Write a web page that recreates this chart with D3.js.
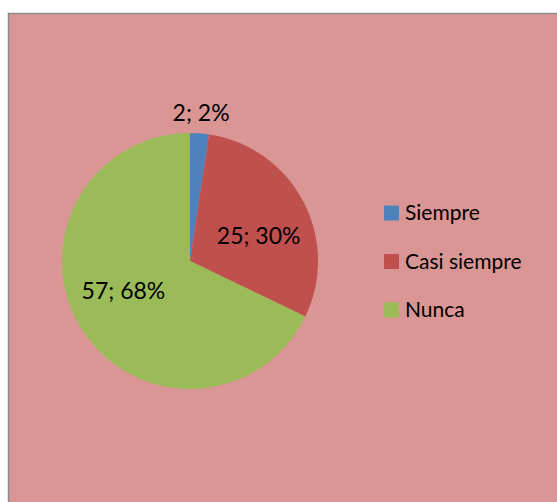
<!DOCTYPE html>
<html>
<head>
<meta charset="utf-8">
<script src="https://cdn.jsdelivr.net/npm/d3@7"></script>
<style>
  body { margin: 0; background: #ffffff; }
  svg { display: block; }
</style>
</head>
<body>
<script>
// Chart data
var categories = ["Siempre", "Casi siempre", "Nunca"];
var values = [2, 25, 57];
var slice_colors = ["#4F81BD", "#C0504D", "#9BBB59"];

var width = 557, height = 502;
var font_family = "Lato, 'Open Sans', sans-serif";

var svg = d3.select("body").append("svg")
    .attr("width", width)
    .attr("height", height);

// chart area background with border
svg.append("rect")
    .attr("x", 8.5).attr("y", 13.5)
    .attr("width", 560).attr("height", 500)
    .attr("fill", "#DA9694")
    .attr("stroke", "#8C8C8C")
    .attr("stroke-width", 1.5);

var cx = 190, cy = 261, radius = 128;
var total = d3.sum(values);

var pie_gen = d3.pie().sort(null).value(function (d) { return d; });
var arc_gen = d3.arc().innerRadius(0).outerRadius(radius);
var slices = pie_gen(values);

var pie_group = svg.append("g").attr("transform", "translate(" + cx + "," + cy + ")");

pie_group.selectAll("path")
    .data(slices)
    .enter().append("path")
    .attr("d", arc_gen)
    .attr("fill", function (d, i) { return slice_colors[i]; });

// labels: small slice outside, others inside (nudged clockwise a bit, like excel's best fit)
var label_shift = 0.14;
var inner_label_arc = d3.arc().innerRadius(radius * 0.57).outerRadius(radius * 0.57);
var outer_label_arc = d3.arc().innerRadius(radius * 1.16).outerRadius(radius * 1.16);

pie_group.selectAll("text")
    .data(slices)
    .enter().append("text")
    .attr("transform", function (d) {
        var small = (d.endAngle - d.startAngle) < 0.3;
        var p;
        if (small) {
            p = outer_label_arc.centroid(d);
        } else {
            p = inner_label_arc.centroid({startAngle: d.startAngle + label_shift, endAngle: d.endAngle + label_shift});
        }
        return "translate(" + p[0] + "," + p[1] + ")";
    })
    .attr("text-anchor", "middle")
    .attr("dy", "0.35em")
    .style("font-family", font_family)
    .style("font-size", "23px")
    .attr("fill", "#000000")
    .text(function (d) {
        return d.data + "; " + Math.round(d.data / total * 100) + "%";
    });

// Legend
var legend_x = 384, legend_y = 213, legend_step = 48.5;
var legend = svg.append("g");
var legend_rows = legend.selectAll("g")
    .data(categories)
    .enter().append("g")
    .attr("transform", function (d, i) { return "translate(" + legend_x + "," + (legend_y + i * legend_step) + ")"; });

legend_rows.append("rect")
    .attr("x", 0).attr("y", -7.5)
    .attr("width", 15).attr("height", 15)
    .attr("fill", function (d, i) { return slice_colors[i]; });

legend_rows.append("text")
    .attr("x", 21).attr("y", 0)
    .attr("dy", "0.35em")
    .style("font-family", font_family)
    .style("font-size", "21px")
    .attr("fill", "#000000")
    .text(function (d) { return d; });
</script>
</body>
</html>
